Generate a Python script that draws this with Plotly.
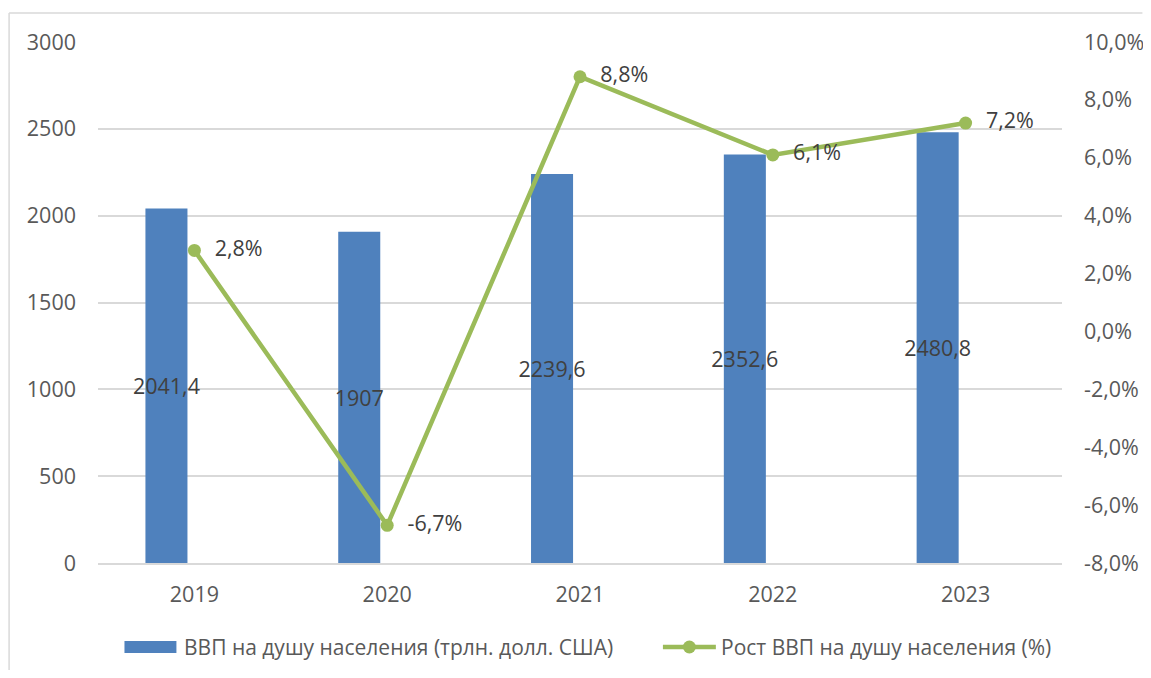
import plotly.graph_objects as go

years = ["2019", "2020", "2021", "2022", "2023"]
gdp_pc = [2041.4, 1907, 2239.6, 2352.6, 2480.8]
growth = [2.8, -6.7, 8.8, 6.1, 7.2]
left_ticks = [0, 500, 1000, 1500, 2000, 2500, 3000]
right_ticks = [-8, -6, -4, -2, 0, 2, 4, 6, 8, 10]

bar_name = "ВВП на душу населения (трлн. долл. США)"
line_name = "Рост ВВП на душу населения (%)"

def fmt_num(v):
    return ("%g" % v).replace(".", ",")

def fmt_pct(v):
    return ("%.1f%%" % v).replace(".", ",")

bar_text = [fmt_num(v) for v in gdp_pc]
line_text = ["  " + fmt_pct(v) for v in growth]
right_text = [fmt_pct(v) for v in right_ticks]

BAR_COLOR = "#4F81BD"
LINE_COLOR = "#9BBB59"
FONT = "Open Sans"
FS = 21.5

# page offset of the figure (body margin)
OFF = 8
W, H = 1151 - 2 * OFF, 678 - 2 * OFF
ML, MT = 89.5, 34
MR = W + OFF - 1062.5
MB = H - (563 - OFF - MT) - MT
PW = W - ML - MR
PH = H - MT - MB

def px(x):
    return (x - OFF - ML) / PW

def py(y):
    return 1 - (y - OFF - MT) / PH

fig = go.Figure()
fig.add_trace(go.Bar(
    x=years, y=gdp_pc, name=bar_name,
    marker=dict(color=BAR_COLOR, line=dict(width=0)),
    width=0.218, offset=-0.254,
    text=bar_text, textposition="inside", insidetextanchor="middle",
    textangle=0, constraintext="none",
    textfont=dict(family=FONT, size=FS, color="#404040"),
    cliponaxis=False, showlegend=False,
))
fig.add_trace(go.Scatter(
    x=years, y=growth, name=line_name, yaxis="y2",
    mode="lines+markers+text",
    line=dict(color=LINE_COLOR, width=4.5),
    marker=dict(color=LINE_COLOR, size=13),
    text=line_text, textposition="middle right",
    textfont=dict(family=FONT, size=FS, color="#404040"),
    cliponaxis=False, showlegend=False,
))

shapes = []
# chart frame (left and top border)
fx, fy = px(8.5), py(13)
shapes.append(dict(type="line", xref="paper", yref="paper", x0=fx, x1=fx, y0=py(670), y1=fy,
                   line=dict(color="#D9D9D9", width=1.5), layer="below"))
shapes.append(dict(type="line", xref="paper", yref="paper", x0=fx, x1=px(1143), y0=fy, y1=fy,
                   line=dict(color="#D9D9D9", width=1.5), layer="below"))
# legend symbols
shapes.append(dict(type="rect", xref="paper", yref="paper", x0=px(124), x1=px(176),
                   y0=py(653), y1=py(641), fillcolor=BAR_COLOR, line=dict(width=0)))
shapes.append(dict(type="line", xref="paper", yref="paper", x0=px(663), x1=px(716),
                   y0=py(647), y1=py(647), line=dict(color=LINE_COLOR, width=4.5)))
shapes.append(dict(type="circle", xref="paper", yref="paper", x0=px(683), x1=px(696),
                   y0=py(653.5), y1=py(640.5), fillcolor=LINE_COLOR, line=dict(width=0)))

annotations = [
    dict(xref="paper", yref="paper", x=px(182), y=py(647), xanchor="left", yanchor="middle",
         text=bar_name, showarrow=False, font=dict(family=FONT, size=FS - 0.5, color="#595959")),
    dict(xref="paper", yref="paper", x=px(719), y=py(647), xanchor="left", yanchor="middle",
         text=line_name, showarrow=False, font=dict(family=FONT, size=FS - 0.5, color="#595959")),
]

fig.update_layout(
    width=W, height=H,
    margin=dict(l=ML, r=MR, t=MT, b=MB, pad=0, autoexpand=False),
    paper_bgcolor="white", plot_bgcolor="white",
    font=dict(family=FONT, size=FS, color="#595959"),
    separators=", ",
    showlegend=False,
    shapes=shapes,
    annotations=annotations,
    xaxis=dict(
        type="category", showgrid=False, showline=True, linecolor="#D9D9D9", linewidth=1.5,
        ticks="", ticklabelstandoff=11, tickfont=dict(size=FS, color="#595959"),
    ),
    yaxis=dict(
        range=[0, 3000], tickvals=left_ticks, showgrid=True, gridcolor="#D9D9D9", gridwidth=1.5,
        zeroline=False, showline=False, ticks="", ticklabelstandoff=21,
        tickfont=dict(size=FS, color="#595959"),
    ),
    yaxis2=dict(
        overlaying="y", side="right", range=[-8, 10], tickvals=right_ticks, ticktext=right_text,
        showgrid=False, zeroline=False, showline=False, ticks="", ticklabelstandoff=21,
        tickfont=dict(size=FS, color="#595959"),
    ),
)

fig.write_html("out.html")
